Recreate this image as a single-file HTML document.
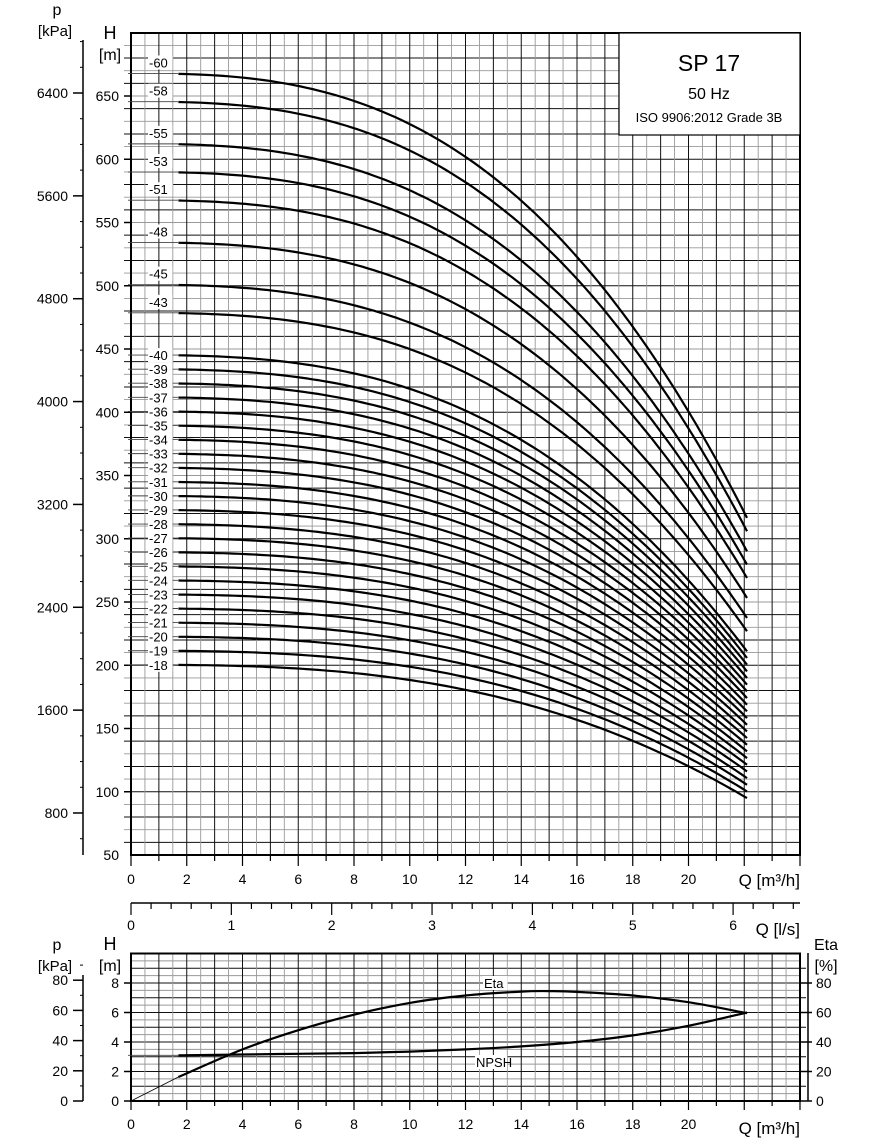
<!DOCTYPE html>
<html><head><meta charset="utf-8">
<style>
html,body{margin:0;padding:0;background:#fff;}
svg{display:block;font-family:"Liberation Sans",Arial,sans-serif;}
</style></head>
<body>
<svg id="s" width="870" height="1146" viewBox="0 0 870 1146" xmlns="http://www.w3.org/2000/svg">
<rect width="870" height="1146" fill="#fff"/>
<g id="g"></g>
<text x="57" y="15" font-size="16" text-anchor="middle">p</text>
<text x="55" y="36" font-size="15" text-anchor="middle">[kPa]</text>
<text x="110" y="39" font-size="18" text-anchor="middle">H</text>
<text x="110" y="60" font-size="16" text-anchor="middle">[m]</text>
<rect x="619" y="33" width="181" height="102" fill="#fff" stroke="#000" stroke-width="1.2"/>
<text x="709" y="71" font-size="23" text-anchor="middle">SP 17</text>
<text x="709" y="99" font-size="16" text-anchor="middle">50 Hz</text>
<text x="709" y="122" font-size="13" text-anchor="middle">ISO 9906:2012 Grade 3B</text>
<text x="800" y="886" font-size="17" text-anchor="end">Q [m³/h]</text>
<text x="800" y="935" font-size="17" text-anchor="end">Q [l/s]</text>
<text x="57" y="950" font-size="16" text-anchor="middle">p</text>
<text x="55" y="971" font-size="15" text-anchor="middle">[kPa]</text>
<text x="110" y="950" font-size="18" text-anchor="middle">H</text>
<text x="110" y="971" font-size="16" text-anchor="middle">[m]</text>
<text x="826" y="950" font-size="16" text-anchor="middle">Eta</text>
<text x="826" y="971" font-size="16" text-anchor="middle">[%]</text>
<text x="800" y="1134" font-size="17" text-anchor="end">Q [m³/h]</text>
</svg>
<script>
var g=document.getElementById('g');var h='';
function L(x1,y1,x2,y2,c,w){h+='<line x1="'+x1+'" y1="'+y1+'" x2="'+x2+'" y2="'+y2+'" stroke="'+c+'" stroke-width="'+w+'"/>';}
function T(x,y,s,t,a,bg){if(bg){h+='<rect x="'+(x-1)+'" y="'+(y-12)+'" width="'+(t.length*7.5+2)+'" height="14" fill="#fff"/>';}h+='<text x="'+x+'" y="'+y+'" font-size="'+s+'" text-anchor="'+(a||'start')+'">'+t+'</text>';}
var X0=131,XS=27.875;function qx(q){return X0+XS*q;}
var Y50=855,YS=1.265;function hy(v){return Y50-(v-50)*YS;}
for(var v=60;v<700;v+=10){var y=hy(v);L(124,y,800,y,(v%20==0)?'#111':'#999',(v%20==0)?1:0.9);}
for(var i=1;i<48;i++){var x=qx(i/2);L(x,33,x,855,(i%2==0)?'#111':'#999',(i%2==0)?1:0.9);}
h+='<rect x="131" y="33" width="669" height="822" fill="none" stroke="#000" stroke-width="2"/>';
for(var v=100;v<=650;v+=50){T(119,hy(v)+5,14,''+v,'end');L(124,hy(v),131,hy(v),'#000',1.5);}
T(119,hy(50)+5,14,'50','end');
for(var q=0;q<=24;q++){var x=qx(q);L(x,855,x,q%2==0?866:861,'#000',1.2);if(q%2==0&&q<=20)T(x,884,14,''+q,'middle');}
L(83,40,83,855,'#000',1.5);
function py(p){return 93+(6400-p)*0.12857;}
for(var p=600;p<=6800;p+=200){var y=py(p);if(y<40)continue;if(p%800==0){L(73,y,83,y,'#000',1.5);T(68,y+5,14,''+p,'end');}else L(80,y,83,y,'#000',1);}
L(131,903,800,903,'#000',1.5);
for(var k=0;k<=33;k++){var x=qx(k*0.2*3.6);if(x>801)break;L(x,903,x,k%5==0?915:909,'#000',1.2);if(k%5==0)T(x,930,14,''+(k/5),'middle');}
var st=[60,58,55,53,51,48,45,43,40,39,38,37,36,35,34,33,32,31,30,29,28,27,26,25,24,23,22,21,20,19,18];
function r(q){return 1-1.09e-4*Math.pow(q,2.74);}
st.forEach(function(n){var H0=n*11.13;var d='';for(var q=1.7;q<=22.11;q+=0.2){d+=(d?'L':'M')+qx(q).toFixed(1)+','+hy(H0*r(q)).toFixed(1);}
d+='L'+qx(22.1).toFixed(1)+','+hy(H0*r(22.1)).toFixed(1);
h+='<path d="'+d+'" fill="none" stroke="#000" stroke-width="2.2"/>';
var y=hy(H0);L(128,y,178,y,'#444',0.9);
var ty=n>=43?y-6:y+5;T(149,ty,13,'-'+n,'start',true);});
function by(v){return 1101-v*14.75;}
for(var v=0.5;v<10;v+=0.5){var y=by(v);L(131,y,800,y,(v%1==0)?'#111':'#999',(v%1==0)?1:0.9);}
for(var i=1;i<48;i++){var x=qx(i/2);L(x,953.5,x,1101,(i%2==0)?'#111':'#999',(i%2==0)?1:0.9);}
h+='<rect x="131" y="953.5" width="669" height="147.5" fill="none" stroke="#000" stroke-width="2"/>';
for(var v=0;v<=8;v+=2){T(119,by(v)+5,14,''+v,'end');L(124,by(v),131,by(v),'#000',1.5);
 L(800,by(v),812,by(v),'#000',1.5);T(816,by(v)+5,14,''+(v*10),'start');}
for(var v=1;v<=9;v+=2){L(800,by(v),806,by(v),'#000',1);}
L(808,953,808,1101,'#000',1.5);
L(83,975,83,1101,'#000',1.5);
for(var p=0;p<=90;p+=10){var y=1101-p*1.51;if(p%20==0){L(73,y,83,y,'#000',1.5);T(68,y+5,14,''+p,'end');}else L(80,y,83,y,'#000',1);}
for(var q=0;q<=24;q++){var x=qx(q);L(x,1101,x,q%2==0?1110:1106,'#000',1.2);if(q%2==0&&q<=20)T(x,1129,14,''+q,'middle');}
function smooth(a){var P=a.map(function(p){return [qx(p[0]),by(p[1])];});var d='M'+P[0][0].toFixed(1)+','+P[0][1].toFixed(1);
for(var i=0;i<P.length-1;i++){var p0=P[i-1]||P[i],p1=P[i],p2=P[i+1],p3=P[i+2]||P[i+1];
var c1=[p1[0]+(p2[0]-p0[0])/6,p1[1]+(p2[1]-p0[1])/6],c2=[p2[0]-(p3[0]-p1[0])/6,p2[1]-(p3[1]-p1[1])/6];
d+='C'+c1[0].toFixed(1)+','+c1[1].toFixed(1)+' '+c2[0].toFixed(1)+','+c2[1].toFixed(1)+' '+p2[0].toFixed(1)+','+p2[1].toFixed(1);}return d;}
var ep=[[1.7,1.63],[4,3.5],[6,4.8],[8,5.85],[10,6.65],[12,7.15],[14,7.42],[15,7.45],[16,7.4],[18,7.15],[20,6.7],[22.1,5.95]];
L(131,1101,qx(1.7),by(1.63),'#000',0.8);
h+='<path d="'+smooth(ep)+'" fill="none" stroke="#000" stroke-width="2.2"/>';
var np=[[1.7,3.1],[4,3.15],[6,3.2],[8,3.25],[10,3.35],[12,3.5],[14,3.7],[16,4.0],[18,4.45],[20,5.1],[22.1,6.0]];
L(128,by(3.1),qx(1.7),by(3.1),'#444',0.9);
h+='<path d="'+smooth(np)+'" fill="none" stroke="#000" stroke-width="2.2"/>';
T(484,988,13,'Eta','start',true);
T(476,1067,13,'NPSH','start',true);
g.innerHTML=h;
</script>
</body></html>
